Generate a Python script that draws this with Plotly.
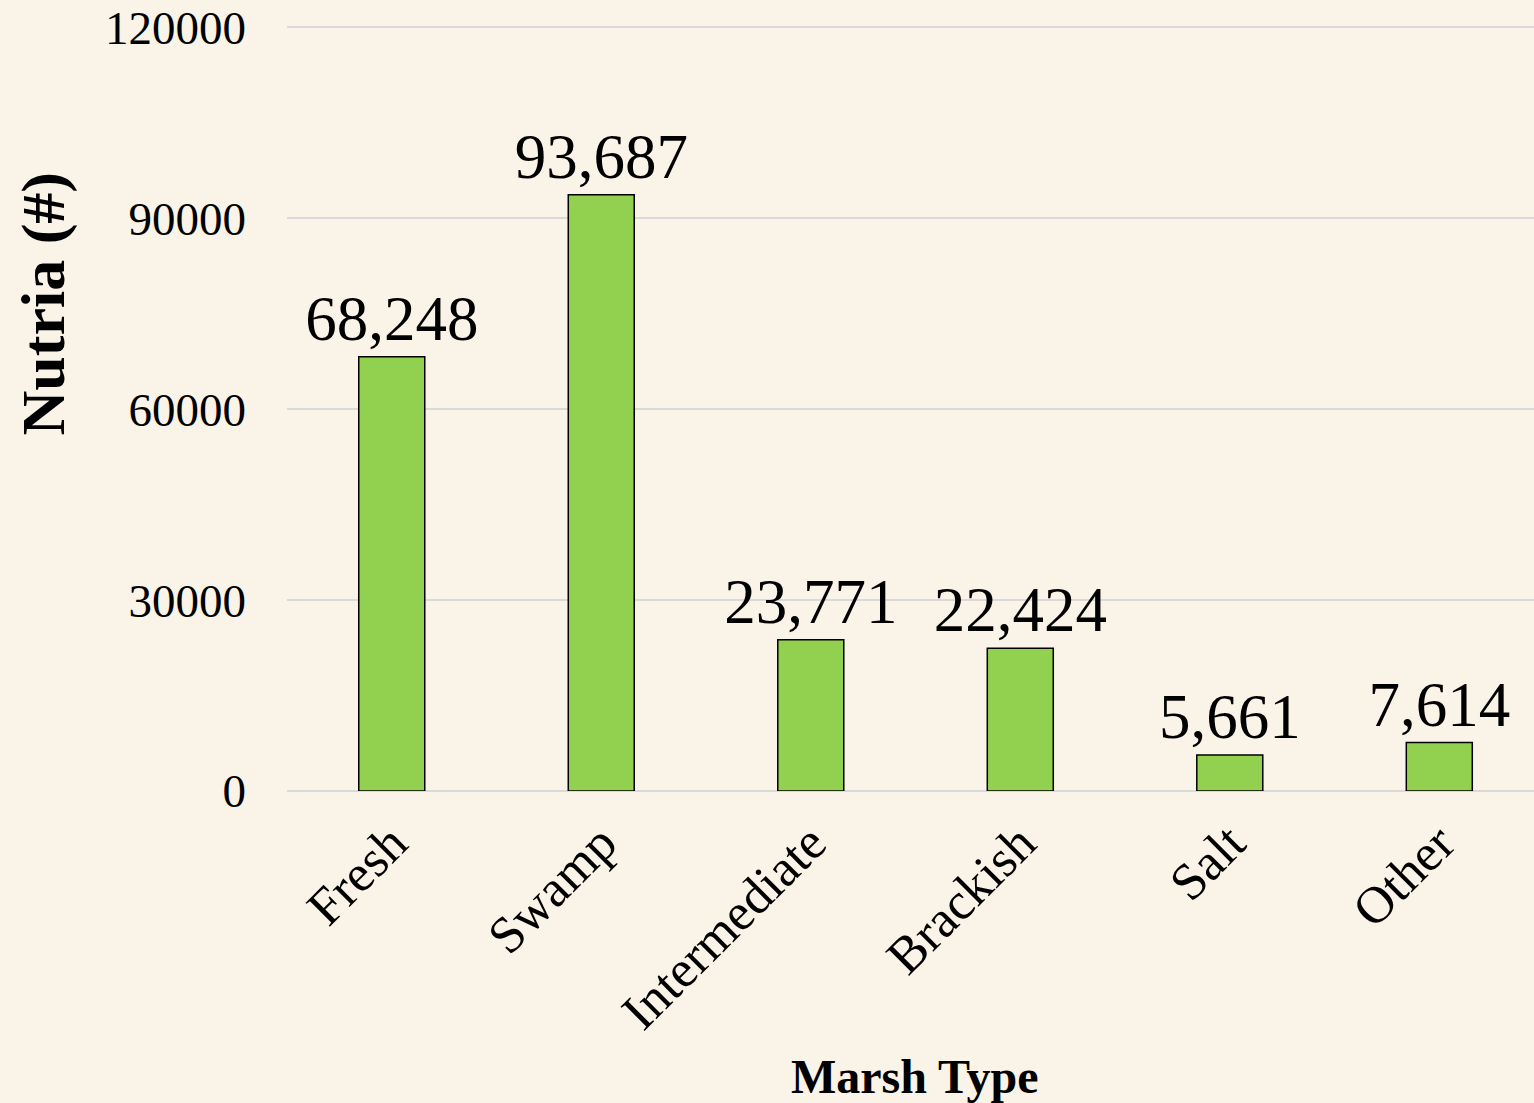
import plotly.graph_objects as go

categories = ["Fresh", "Swamp", "Intermediate", "Brackish", "Salt", "Other"]
values = [68248, 93687, 23771, 22424, 5661, 7614]
labels = ["68,248", "93,687", "23,771", "22,424", "5,661", "7,614"]
y_ticks = [0, 30000, 60000, 90000, 120000]

BG = "#FAF3E7"
FONT = "Liberation Serif, Times New Roman, serif"

fig = go.Figure()
fig.add_trace(go.Bar(
    x=categories, y=values, text=labels, textposition="outside",
    textfont=dict(family=FONT, size=63, color="black"),
    constraintext="none",
    marker=dict(color="#92D050", line=dict(color="black", width=1.5)),
    width=0.315, cliponaxis=False,
))

fig.update_layout(
    width=1534, height=1103,
    paper_bgcolor=BG, plot_bgcolor=BG,
    margin=dict(l=287, r=0, t=21, b=312),
    showlegend=False,
    font=dict(family=FONT, color="black"),
    xaxis=dict(
        range=[-0.5, 5.452], tickangle=-45,
        tickfont=dict(family=FONT, size=52, color="black"),
        showgrid=False, showline=False, zeroline=False,
        ticks="", ticklabelstandoff=10,
    ),
    yaxis=dict(
        range=[0, 121000], tickvals=y_ticks,
        ticktext=[str(v) for v in y_ticks],
        tickfont=dict(family=FONT, size=47, color="black"),
        showgrid=True, gridcolor="#D9D9D9", gridwidth=1.5,
        zeroline=True, zerolinecolor="#D9D9D9", zerolinewidth=1.5,
        showline=False, ticks="", ticklabelstandoff=40,
    ),
    annotations=[
        dict(text="<b>Nutria (#)</b>", xref="paper", yref="paper",
             x=-0.195, y=0.633, xanchor="center", yanchor="middle",
             textangle=-90, showarrow=False,
             font=dict(family=FONT, size=62, color="black")),
        dict(text="<b>Marsh Type</b>", xref="paper", yref="paper",
             x=0.504, y=-0.371, xanchor="center", yanchor="middle",
             showarrow=False,
             font=dict(family=FONT, size=48, color="black")),
    ],
)

fig.write_html(
    "out.html",
    config={"displayModeBar": False},
    post_script="document.body.style.margin='0';document.body.style.background='%s';" % BG,
)
